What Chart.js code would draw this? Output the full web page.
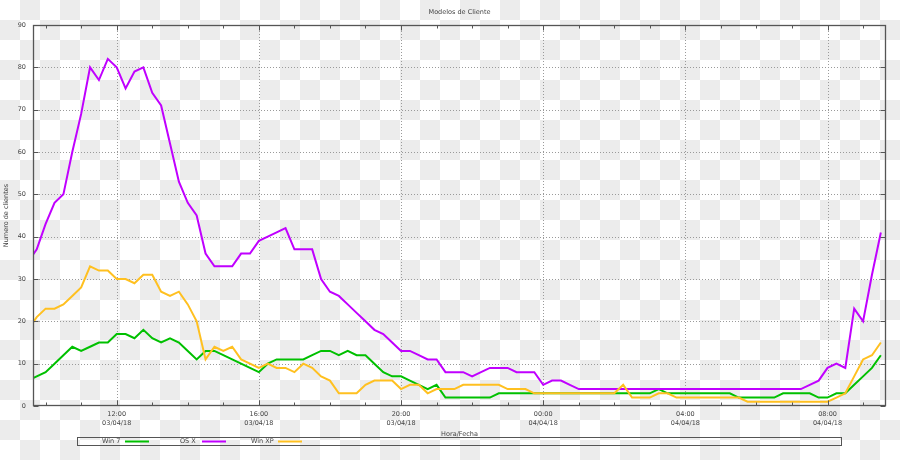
<!DOCTYPE html>
<html>
<head>
<meta charset="utf-8">
<script src="https://cdn.jsdelivr.net/npm/chart.js@4/dist/chart.umd.min.js"></script>
<style>
html, body { margin: 0; padding: 0; }
body {
  width: 900px; height: 460px; overflow: hidden;
  background-color: #ffffff;
  background-image: conic-gradient(#ececec 25%, transparent 0 50%, #ececec 0 75%, transparent 0);
  background-size: 40px 40px;
}
#wrap { position: absolute; left: 0; top: 0; width: 900px; height: 460px; }
canvas { display: block; }
</style>
</head>
<body>
<div id="wrap"><canvas id="c" width="900" height="460"></canvas></div>
<script>
// ---- data ----
const chartTitle = 'Modelos de Cliente';
const xTitle = 'Hora/Fecha';
const yTitle = 'Numero de clientes';
const startHour = 9.5;          // first sample: 03/04/18 09:30
const stepHours = 0.25;         // one sample every 15 minutes
const rangeStart = 9.645;       // x axis starts 03/04/18 ~09:38
const rangeHours = 24;
const dayLabels = ['03/04/18', '04/04/18'];
const yTickValues = [0, 10, 20, 30, 40, 50, 60, 70, 80, 90];
const seriesNames = ['Win 7', 'OS X', 'Win XP'];
const seriesColors = ['#00c000', '#c000ff', '#ffc020'];

const win7 = [
  6, 7, 8, 10, 12, 14, 13, 14, 15, 15,
  17, 17, 16, 18, 16, 15, 16, 15, 13, 11,
  13, 13, 12, 11, 10, 9, 8, 10, 11, 11,
  11, 11, 12, 13, 13, 12, 13, 12, 12, 10,
  8, 7, 7, 6, 5, 4, 5, 2, 2, 2,
  2, 2, 2, 3, 3, 3, 3, 3, 3, 3,
  3, 3, 3, 3, 3, 3, 3, 3, 3, 3,
  3, 4, 3, 3, 3, 3, 3, 3, 3, 3,
  2, 2, 2, 2, 2, 3, 3, 3, 3, 2,
  2, 3, 3, 5, 7, 9, 12
];
const osx = [
  34, 37, 43, 48, 50, 60, 69, 80, 77, 82,
  80, 75, 79, 80, 74, 71, 62, 53, 48, 45,
  36, 33, 33, 33, 36, 36, 39, 40, 41, 42,
  37, 37, 37, 30, 27, 26, 24, 22, 20, 18,
  17, 15, 13, 13, 12, 11, 11, 8, 8, 8,
  7, 8, 9, 9, 9, 8, 8, 8, 5, 6,
  6, 5, 4, 4, 4, 4, 4, 4, 4, 4,
  4, 4, 4, 4, 4, 4, 4, 4, 4, 4,
  4, 4, 4, 4, 4, 4, 4, 4, 5, 6,
  9, 10, 9, 23, 20, 31, 41
];
const winxp = [
  18, 21, 23, 23, 24, 26, 28, 33, 32, 32,
  30, 30, 29, 31, 31, 27, 26, 27, 24, 20,
  11, 14, 13, 14, 11, 10, 9, 10, 9, 9,
  8, 10, 9, 7, 6, 3, 3, 3, 5, 6,
  6, 6, 4, 5, 5, 3, 4, 4, 4, 5,
  5, 5, 5, 5, 4, 4, 4, 3, 3, 3,
  3, 3, 3, 3, 3, 3, 3, 5, 2, 2,
  2, 3, 3, 2, 2, 2, 2, 2, 2, 2,
  2, 1, 1, 1, 1, 1, 1, 1, 1, 1,
  1, 2, 3, 7, 11, 12, 15
];
const seriesValues = [win7, osx, winxp];

// ---- build chart ----
const FONT = '"DejaVu Sans", sans-serif';
const TEXT = '#444444';
const pad2 = n => (n < 10 ? '0' : '') + n;
const toPoints = arr => arr.map((v, i) => ({ x: startHour + i * stepHours, y: v }));
const hourTicks = (lo, hi) => { const t = []; for (let h = Math.ceil(lo); h <= hi; h++) t.push(h); return t; };

const datasets = seriesNames.map((name, i) => ({
  label: name,
  data: toPoints(seriesValues[i]),
  borderColor: seriesColors[i],
  backgroundColor: seriesColors[i],
  borderWidth: 2,
  pointRadius: 0,
  tension: 0,
  fill: false,
  order: seriesNames.length - 1 - i
}));

const decor = {
  id: 'decor',
  beforeDatasetsDraw(chart) {
    const { ctx, chartArea: a, scales: { x, y } } = chart;
    ctx.save();
    ctx.strokeStyle = '#9a9a9a';
    ctx.lineWidth = 1;
    ctx.setLineDash([1, 2]);
    ctx.beginPath();
    hourTicks(x.min, x.max).forEach(h => {
      if (h % 4 !== 0) return;
      const px = Math.round(x.getPixelForValue(h)) + 0.5;
      ctx.moveTo(px, a.top); ctx.lineTo(px, a.bottom);
    });
    yTickValues.forEach(v => {
      if (v === y.min || v === y.max) return;
      const py = Math.round(y.getPixelForValue(v)) + 0.5;
      ctx.moveTo(a.left, py); ctx.lineTo(a.right, py);
    });
    ctx.stroke();
    ctx.restore();
  },
  afterDatasetsDraw(chart) {
    const { ctx, chartArea: a, scales: { x, y } } = chart;
    ctx.save();
    ctx.strokeStyle = '#555555';
    ctx.lineWidth = 1;
    ctx.setLineDash([]);
    const L = Math.round(a.left) + 0.5, R = Math.round(a.right) - 0.5;
    const T = Math.round(a.top) + 0.5, B = Math.round(a.bottom) - 0.5;
    ctx.beginPath();
    hourTicks(x.min, x.max).forEach(h => {
      const len = h % 4 === 0 ? 5 : 3;
      const px = Math.round(x.getPixelForValue(h)) + 0.5;
      ctx.moveTo(px, B); ctx.lineTo(px, B - len);
      ctx.moveTo(px, T); ctx.lineTo(px, T + len);
    });
    yTickValues.forEach(v => {
      const py = Math.round(y.getPixelForValue(v)) + 0.5;
      ctx.moveTo(L, py); ctx.lineTo(L + 5, py);
      ctx.moveTo(R, py); ctx.lineTo(R - 5, py);
    });
    ctx.stroke();
    ctx.lineWidth = 1.3;
    ctx.strokeRect(L, T, R - L, B - T);
    ctx.restore();
  },
  afterDraw(chart) {
    const { ctx, chartArea: a } = chart;
    ctx.save();
    ctx.fillStyle = TEXT;
    ctx.font = '6.5px ' + FONT;
    ctx.textBaseline = 'middle';
    ctx.textAlign = 'center';
    ctx.fillText(chartTitle, (a.left + a.right) / 2, 12);
    ctx.fillText(xTitle, (a.left + a.right) / 2, 434);
    ctx.save();
    ctx.translate(6, (a.top + a.bottom) / 2);
    ctx.rotate(-Math.PI / 2);
    ctx.fillText(yTitle, 0, 0);
    ctx.restore();
    // legend box
    ctx.strokeStyle = '#555555';
    ctx.lineWidth = 1;
    ctx.strokeRect(77.5, 437.5, 764, 8);
    const textX = [102, 180, 251];
    const lineX = [125, 202, 278];
    ctx.textAlign = 'left';
    seriesNames.forEach((name, i) => {
      ctx.fillStyle = TEXT;
      ctx.fillText(name, textX[i], 441.5);
      ctx.strokeStyle = seriesColors[i];
      ctx.lineWidth = 2;
      ctx.beginPath();
      ctx.moveTo(lineX[i], 441.5);
      ctx.lineTo(lineX[i] + 24, 441.5);
      ctx.stroke();
    });
    ctx.restore();
  }
};

new Chart(document.getElementById('c'), {
  type: 'line',
  data: { datasets },
  options: {
    responsive: false,
    animation: false,
    devicePixelRatio: 1,
    layout: { padding: { top: 25, right: 14, left: 0, bottom: 0 } },
    plugins: { legend: { display: false }, title: { display: false }, tooltip: { enabled: false } },
    scales: {
      x: {
        type: 'linear',
        min: rangeStart,
        max: rangeStart + rangeHours,
        grid: { display: false, drawTicks: false },
        border: { display: false },
        afterFit: s => { s.height = 54; },
        afterBuildTicks: s => { s.ticks = hourTicks(s.min, s.max).map(h => ({ value: h })); },
        ticks: {
          autoSkip: false,
          maxRotation: 0,
          padding: 4,
          color: TEXT,
          font: { family: FONT, size: 6.5, lineHeight: 1.4 },
          callback: v => {
            if (v % 4 !== 0) return '';
            const h = v % 24;
            return [pad2(h) + ':00', dayLabels[v < 24 ? 0 : 1]];
          }
        }
      },
      y: {
        min: 0,
        max: 90,
        grid: { display: false, drawTicks: false },
        border: { display: false },
        afterFit: s => { s.width = 33; },
        afterBuildTicks: s => { s.ticks = yTickValues.map(v => ({ value: v })); },
        ticks: {
          padding: 7,
          color: TEXT,
          font: { family: FONT, size: 6.5 }
        }
      }
    }
  },
  plugins: [decor]
});
</script>
</body>
</html>
